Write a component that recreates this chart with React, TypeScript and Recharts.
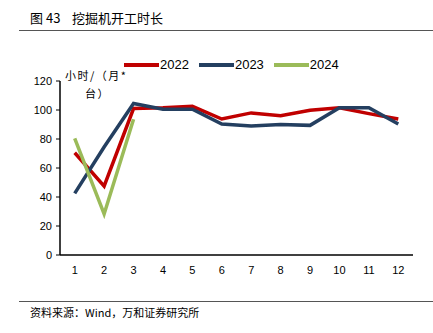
import { LineChart, Line, XAxis, YAxis } from 'recharts';

const months = ['1', '2', '3', '4', '5', '6', '7', '8', '9', '10', '11', '12'];
const hours2022 = [70.5, 47.5, 101, 101.5, 102.5, 93.8, 98, 96, 99.8, 101.5, 97.5, 93.8];
const hours2023 = [42.5, 74.5, 104.5, 100.5, 100.5, 90.3, 89, 90, 89.4, 101.5, 101.5, 90.3];
const hours2024: (number | null)[] = [80.5, 28.3, 93.6, null, null, null, null, null, null, null, null, null];
const yTicks = [0, 20, 40, 60, 80, 100, 120];

const series = [
  { key: 'y2022', name: '2022', color: '#C00000' },
  { key: 'y2023', name: '2023', color: '#243F60' },
  { key: 'y2024', name: '2024', color: '#9BBB59' },
];

const data = months.map((m, i) => ({
  month: m,
  y2022: hours2022[i],
  y2023: hours2023[i],
  y2024: hours2024[i],
}));

const font = '"Liberation Sans", Arial, sans-serif';
const cjk = '"Noto Sans CJK SC", sans-serif';

export default function App() {
  return (
    <div style={{ position: 'absolute', left: 0, top: 0, width: 433, height: 333, background: '#fff' }}>
      <div style={{ position: 'absolute', left: 30, top: 8, fontFamily: cjk, fontSize: 13, color: '#000', whiteSpace: 'pre' }}>
        {'图 43    挖掘机开工时长'}
      </div>
      <div style={{ position: 'absolute', left: 19, top: 30, width: 414, height: 1, background: '#555' }} />
      <div style={{ position: 'absolute', left: 65, top: 66, fontFamily: cjk, fontSize: 11, color: '#000', lineHeight: '18px', letterSpacing: 1.5 }}>
        <div>小时/（月*</div>
        <div style={{ paddingLeft: 20 }}>台）</div>
      </div>
      <div style={{ position: 'absolute', left: 124, top: 57, display: 'flex', fontFamily: font, fontSize: 13, color: '#000' }}>
        {series.map((s) => (
          <div key={s.key} style={{ display: 'flex', alignItems: 'center', marginRight: 10 }}>
            <div style={{ width: 35, height: 4, background: s.color, marginRight: 1 }} />
            <span>{s.name}</span>
          </div>
        ))}
      </div>
      <LineChart width={433} height={333} data={data} margin={{ top: 81, right: 20, bottom: 48, left: 0 }}>
        <XAxis
          dataKey="month"
          scale="band"
          height={30}
          tickLine={false}
          tickSize={6}
          tickMargin={5}
          axisLine={{ stroke: '#000', strokeWidth: 1.5 }}
          tick={{ fill: '#000', fontSize: 11, fontFamily: font }}
        />
        <YAxis
          width={60}
          domain={[0, 120]}
          ticks={yTicks}
          tickSize={4}
          tickMargin={4}
          tickLine={{ stroke: '#000' }}
          axisLine={{ stroke: '#000', strokeWidth: 1.5 }}
          tick={{ fill: '#000', fontSize: 11, fontFamily: font }}
        />
        {series.map((s) => (
          <Line
            key={s.key}
            type="linear"
            dataKey={s.key}
            name={s.name}
            stroke={s.color}
            strokeWidth={3.5}
            dot={false}
            isAnimationActive={false}
          />
        ))}
      </LineChart>
      <div style={{ position: 'absolute', left: 19, top: 301, width: 414, height: 1, background: '#555' }} />
      <div style={{ position: 'absolute', left: 30, top: 304, fontFamily: cjk, fontSize: 11, color: '#000' }}>
        资料来源：Wind，万和证券研究所
      </div>
    </div>
  );
}
